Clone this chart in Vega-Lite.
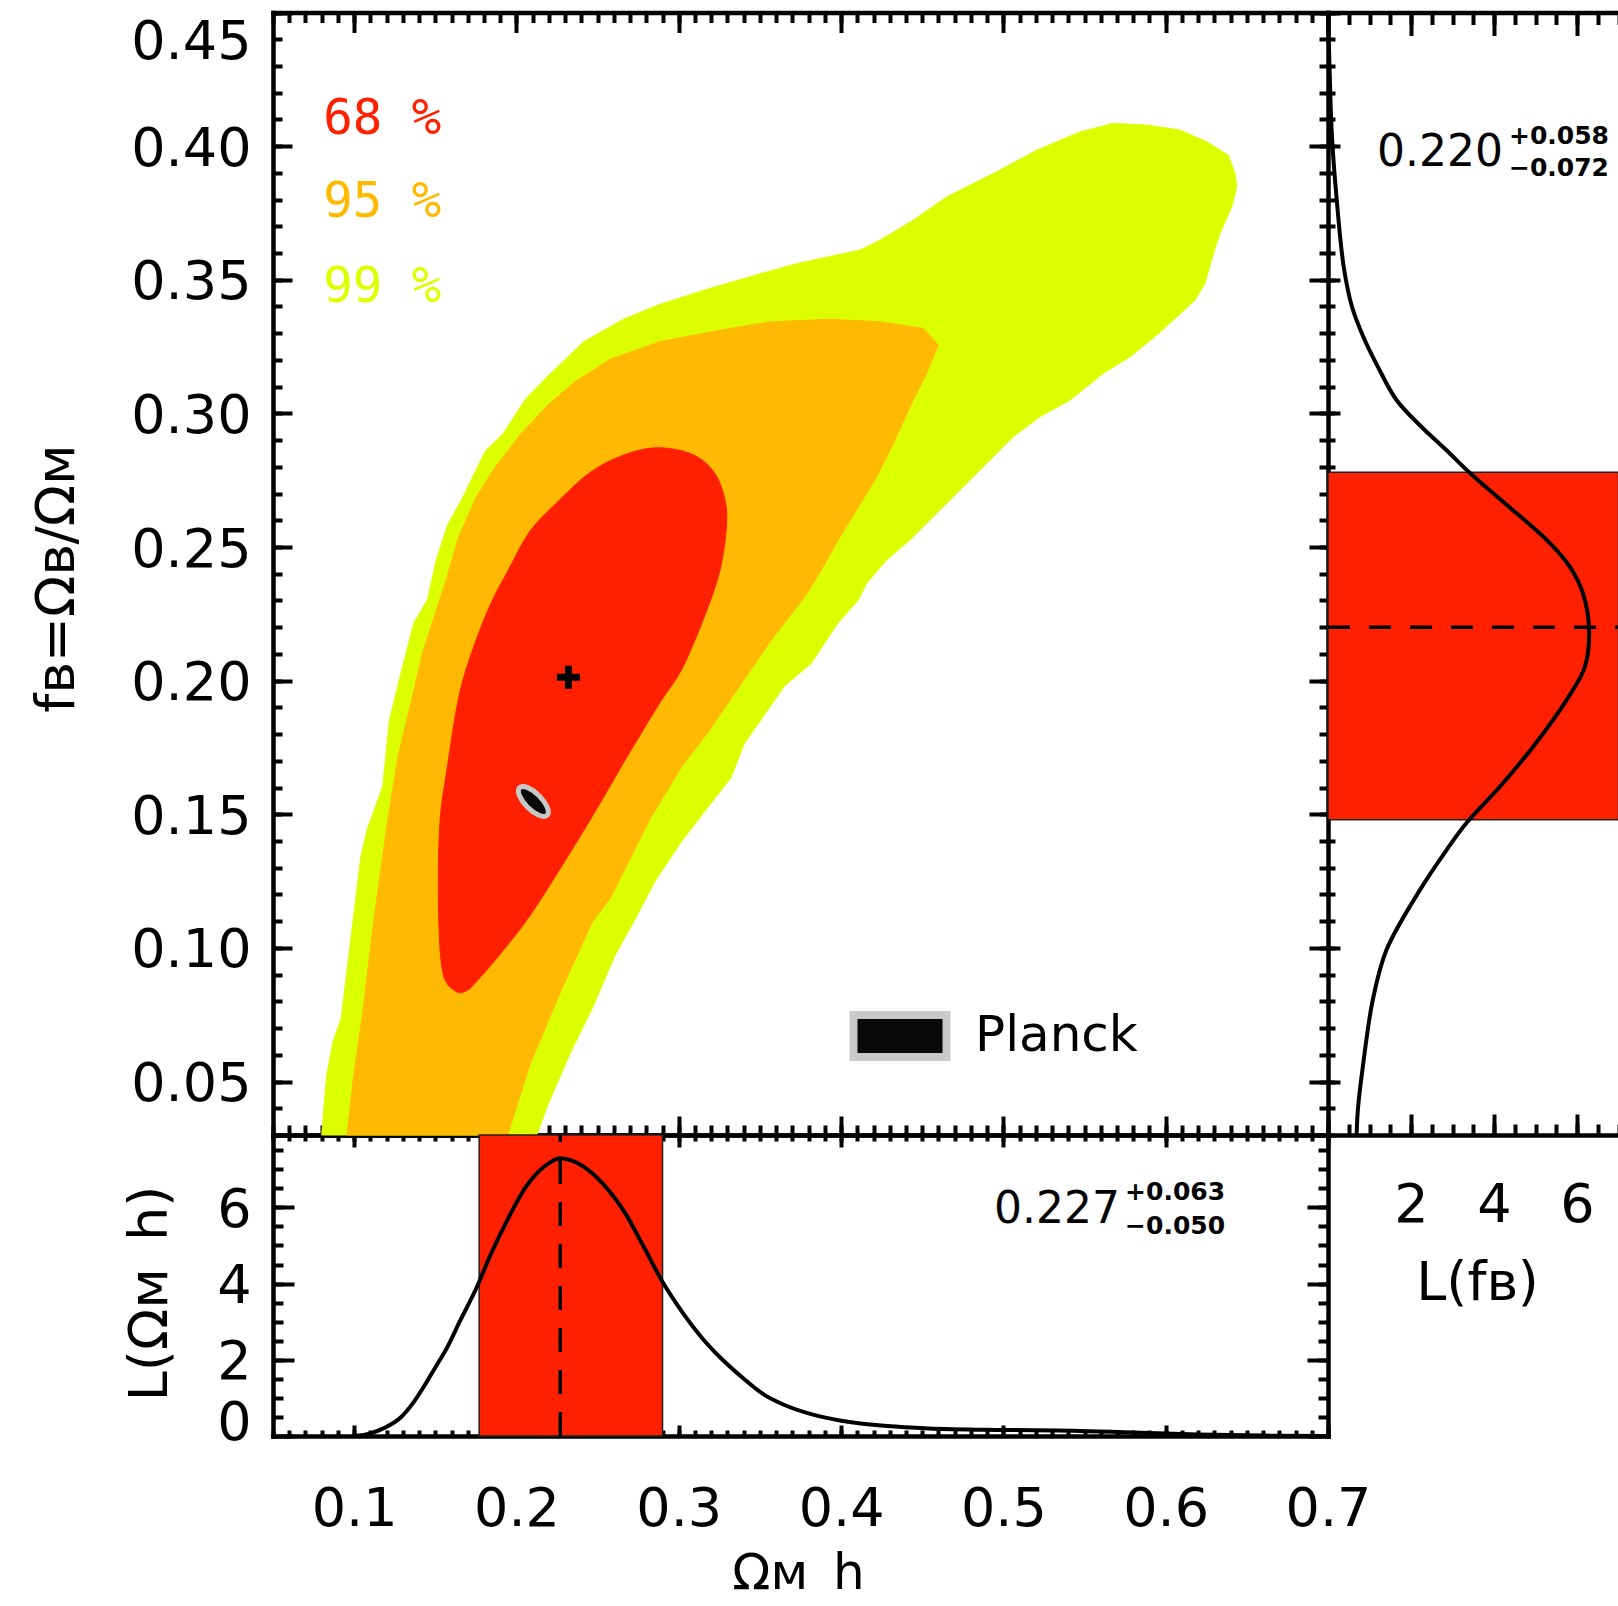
{
"$schema": "https://vega.github.io/schema/vega-lite/v6.json",
"width": 1618, "height": 1606,
"autosize": {"type": "none"},
"padding": 0,
"background": "white",
"config": {
  "view": {"stroke": null},
  "axis": {"labelFont": "DejaVu Sans", "labelFontSize": 54, "labelColor": "black", "titleFont": "DejaVu Sans", "titleFontSize": 54, "titleFontWeight": "normal", "titleColor": "black", "domainColor": "black", "domainWidth": 4.5, "domainCap": "square", "tickColor": "black", "tickWidth": 4, "grid": false, "zindex": 1, "labelFlush": false, "labelOverlap": false}
},
"datasets": {
  "c99": [
    {"i":1,"omh":0.080,"fb":0.030},{"i":2,"omh":0.083,"fb":0.052},{"i":3,"omh":0.087,"fb":0.065},{"i":4,"omh":0.092,"fb":0.0735},{"i":5,"omh":0.098,"fb":0.1035},{"i":6,"omh":0.104,"fb":0.1336},{"i":7,"omh":0.108,"fb":0.1443},{"i":8,"omh":0.1176,"fb":0.1604},{"i":9,"omh":0.1217,"fb":0.1851},{"i":10,"omh":0.1286,"fb":0.2022},
    {"i":11,"omh":0.1368,"fb":0.2216},{"i":12,"omh":0.1451,"fb":0.2302},{"i":13,"omh":0.1506,"fb":0.2452},{"i":14,"omh":0.1575,"fb":0.2581},{"i":15,"omh":0.1671,"fb":0.2688},{"i":16,"omh":0.1808,"fb":0.2859},{"i":17,"omh":0.1918,"fb":0.2924},{"i":18,"omh":0.2056,"fb":0.3054},{"i":19,"omh":0.2193,"fb":0.3139},{"i":20,"omh":0.2414,"fb":0.3268},
    {"i":21,"omh":0.2661,"fb":0.3353},{"i":22,"omh":0.2881,"fb":0.3407},{"i":23,"omh":0.3156,"fb":0.3461},{"i":24,"omh":0.3459,"fb":0.3515},{"i":25,"omh":0.3706,"fb":0.3557},{"i":26,"omh":0.3829,"fb":0.3574},{"i":27,"omh":0.4117,"fb":0.3611},{"i":28,"omh":0.4240,"fb":0.3648},{"i":29,"omh":0.4445,"fb":0.3723},{"i":30,"omh":0.4651,"fb":0.3810},
    {"i":31,"omh":0.4959,"fb":0.3904},{"i":32,"omh":0.5206,"fb":0.3985},{"i":33,"omh":0.5472,"fb":0.4053},{"i":34,"omh":0.5677,"fb":0.4085},{"i":35,"omh":0.5883,"fb":0.4079},{"i":36,"omh":0.6088,"fb":0.4060},{"i":37,"omh":0.6253,"fb":0.4016},{"i":38,"omh":0.6386,"fb":0.3966},{"i":39,"omh":0.6427,"fb":0.3898},{"i":40,"omh":0.6438,"fb":0.3848},
    {"i":41,"omh":0.6407,"fb":0.3773},{"i":42,"omh":0.6335,"fb":0.3674},{"i":43,"omh":0.6294,"fb":0.3599},{"i":44,"omh":0.6242,"fb":0.3487},{"i":45,"omh":0.6181,"fb":0.3424},{"i":46,"omh":0.6047,"fb":0.3349},{"i":47,"omh":0.5945,"fb":0.3293},{"i":48,"omh":0.5780,"fb":0.3212},{"i":49,"omh":0.5616,"fb":0.3150},{"i":50,"omh":0.5411,"fb":0.3050},
    {"i":51,"omh":0.5226,"fb":0.2988},{"i":52,"omh":0.5061,"fb":0.2913},{"i":53,"omh":0.4897,"fb":0.2813},{"i":54,"omh":0.4713,"fb":0.2701},{"i":55,"omh":0.4568,"fb":0.2614},{"i":56,"omh":0.4425,"fb":0.2527},{"i":57,"omh":0.4281,"fb":0.2452},{"i":58,"omh":0.4158,"fb":0.2365},{"i":59,"omh":0.4106,"fb":0.2302},{"i":60,"omh":0.3981,"fb":0.2216},
    {"i":61,"omh":0.3816,"fb":0.2065},{"i":62,"omh":0.3651,"fb":0.1980},{"i":63,"omh":0.3404,"fb":0.1765},{"i":64,"omh":0.3321,"fb":0.1637},{"i":65,"omh":0.3128,"fb":0.1486},{"i":66,"omh":0.3019,"fb":0.1400},{"i":67,"omh":0.2854,"fb":0.1250},{"i":68,"omh":0.2743,"fb":0.1121},{"i":69,"omh":0.2606,"fb":0.0971},{"i":70,"omh":0.2469,"fb":0.0777},
    {"i":71,"omh":0.2331,"fb":0.0606},{"i":72,"omh":0.2193,"fb":0.0413},{"i":73,"omh":0.2125,"fb":0.030}
  ],
  "c95": [
    {"i":1,"omh":0.0956,"fb":0.030},{"i":2,"omh":0.0997,"fb":0.0520},{"i":3,"omh":0.1052,"fb":0.0756},{"i":4,"omh":0.1120,"fb":0.1099},{"i":5,"omh":0.1203,"fb":0.1464},{"i":6,"omh":0.1272,"fb":0.1723},{"i":7,"omh":0.1341,"fb":0.1894},{"i":8,"omh":0.1423,"fb":0.2108},{"i":9,"omh":0.1492,"fb":0.2237},{"i":10,"omh":0.1561,"fb":0.2366},
    {"i":11,"omh":0.1644,"fb":0.2538},{"i":12,"omh":0.1753,"fb":0.2688},{"i":13,"omh":0.1864,"fb":0.2795},{"i":14,"omh":0.2028,"fb":0.2924},{"i":15,"omh":0.2193,"fb":0.3031},{"i":16,"omh":0.2358,"fb":0.3117},{"i":17,"omh":0.2578,"fb":0.3203},{"i":18,"omh":0.2881,"fb":0.3268},{"i":19,"omh":0.3239,"fb":0.3310},{"i":20,"omh":0.3568,"fb":0.3343},
    {"i":21,"omh":0.3932,"fb":0.3352},{"i":22,"omh":0.4240,"fb":0.3343},{"i":23,"omh":0.4507,"fb":0.3318},{"i":24,"omh":0.4599,"fb":0.3256},{"i":25,"omh":0.4528,"fb":0.3150},{"i":26,"omh":0.4445,"fb":0.3050},{"i":27,"omh":0.4322,"fb":0.2888},{"i":28,"omh":0.4220,"fb":0.2763},{"i":29,"omh":0.4096,"fb":0.2639},{"i":30,"omh":0.3994,"fb":0.2539},
    {"i":31,"omh":0.3891,"fb":0.2427},{"i":32,"omh":0.3788,"fb":0.2323},{"i":33,"omh":0.3568,"fb":0.2151},{"i":34,"omh":0.3376,"fb":0.1980},{"i":35,"omh":0.3183,"fb":0.1809},{"i":36,"omh":0.3019,"fb":0.1679},{"i":37,"omh":0.2826,"fb":0.1486},{"i":38,"omh":0.2578,"fb":0.1186},{"i":39,"omh":0.2469,"fb":0.1099},{"i":40,"omh":0.2276,"fb":0.0842},
    {"i":41,"omh":0.2083,"fb":0.0563},{"i":42,"omh":0.1946,"fb":0.030}
  ],
  "c68": [
    {"i":1,"omh":0.1629,"fb":0.0837},{"i":2,"omh":0.1547,"fb":0.0906},{"i":3,"omh":0.1520,"fb":0.1142},{"i":4,"omh":0.1528,"fb":0.1464},{"i":5,"omh":0.1575,"fb":0.1679},{"i":6,"omh":0.1644,"fb":0.1936},{"i":7,"omh":0.1726,"fb":0.2108},{"i":8,"omh":0.1836,"fb":0.2280},{"i":9,"omh":0.1946,"fb":0.2409},{"i":10,"omh":0.2083,"fb":0.2559},
    {"i":11,"omh":0.2249,"fb":0.2666},{"i":12,"omh":0.2441,"fb":0.2773},{"i":13,"omh":0.2634,"fb":0.2838},{"i":14,"omh":0.2854,"fb":0.2871},{"i":15,"omh":0.3074,"fb":0.2849},{"i":16,"omh":0.3211,"fb":0.2785},{"i":17,"omh":0.3280,"fb":0.2688},{"i":18,"omh":0.3294,"fb":0.2581},{"i":19,"omh":0.3252,"fb":0.2409},{"i":20,"omh":0.3156,"fb":0.2237},
    {"i":21,"omh":0.3019,"fb":0.2044},{"i":22,"omh":0.2881,"fb":0.1915},{"i":23,"omh":0.2689,"fb":0.1723},{"i":24,"omh":0.2523,"fb":0.1550},{"i":25,"omh":0.2331,"fb":0.1357},{"i":26,"omh":0.2083,"fb":0.1121},{"i":27,"omh":0.1891,"fb":0.0971},{"i":28,"omh":0.1753,"fb":0.0874},{"i":29,"omh":0.1698,"fb":0.0842}
  ],
  "levels": [
    {"label":"68 %","omh":0.081,"fb":0.4102},
    {"label":"95 %","omh":0.081,"fb":0.3791},
    {"label":"99 %","omh":0.081,"fb":0.3473}
  ],
  "planck": [{"source":"Planck","omh":0.2104,"fb":0.1548}],
  "best": [{"omh":0.232,"fb":0.2013}],
  "omh_est": [{"best":0.227,"lo":0.177,"hi":0.290}],
  "omh_like": [
    {"omh":0.100,"L":0.0},{"omh":0.110,"L":0.07},{"omh":0.118,"L":0.2},{"omh":0.129,"L":0.5},{"omh":0.136,"L":0.85},{"omh":0.143,"L":1.3},{"omh":0.150,"L":1.8},{"omh":0.157,"L":2.3},{"omh":0.165,"L":3.0},{"omh":0.1754,"L":3.89},
    {"omh":0.184,"L":4.75},{"omh":0.195,"L":5.72},{"omh":0.206,"L":6.55},{"omh":0.2174,"L":7.08},{"omh":0.227,"L":7.29},{"omh":0.2395,"L":7.12},{"omh":0.2533,"L":6.62},{"omh":0.267,"L":5.85},{"omh":0.278,"L":5.0},{"omh":0.2906,"L":4.0},
    {"omh":0.303,"L":3.2},{"omh":0.3138,"L":2.6},{"omh":0.3265,"L":2.02},{"omh":0.339,"L":1.54},{"omh":0.352,"L":1.1},{"omh":0.3648,"L":0.82},{"omh":0.3827,"L":0.56},{"omh":0.40,"L":0.4},{"omh":0.4286,"L":0.26},{"omh":0.454,"L":0.2},
    {"omh":0.50,"L":0.16},{"omh":0.543,"L":0.14},{"omh":0.58,"L":0.09},{"omh":0.62,"L":0.04},{"omh":0.66,"L":0.01},{"omh":0.70,"L":0.0}
  ],
  "omh_text": [{"t":"0.227","omh":0.5719,"L":5.93}],
  "omh_err": [{"t":"+0.063","omh":0.575,"L":6.41},{"t":"−0.050","omh":0.575,"L":5.52}],
  "fb_est": [{"best":0.220,"lo":0.148,"hi":0.278}],
  "fb_like": [
    {"fb":0.449,"L":0.0},{"fb":0.428,"L":0.04},{"fb":0.405,"L":0.09},{"fb":0.380,"L":0.21},{"fb":0.3547,"L":0.38},{"fb":0.3398,"L":0.58},{"fb":0.3287,"L":0.85},{"fb":0.3175,"L":1.2},{"fb":0.3050,"L":1.65},{"fb":0.2950,"L":2.25},
    {"fb":0.2863,"L":2.85},{"fb":0.2777,"L":3.42},{"fb":0.2657,"L":4.31},{"fb":0.2527,"L":5.27},{"fb":0.2426,"L":5.83},{"fb":0.2328,"L":6.14},{"fb":0.2195,"L":6.29},{"fb":0.2052,"L":6.19},{"fb":0.1928,"L":5.75},{"fb":0.1752,"L":4.94},{"fb":0.1603,"L":4.14},
    {"fb":0.1468,"L":3.34},{"fb":0.1367,"L":2.86},{"fb":0.1218,"L":2.22},{"fb":0.0993,"L":1.41},{"fb":0.0806,"L":1.08},{"fb":0.0556,"L":0.84},{"fb":0.0395,"L":0.72},{"fb":0.030,"L":0.69}
  ],
  "fb_text": [{"t":"0.220","L":4.217,"fb":0.3974}],
  "fb_err": [{"t":"+0.058","L":4.36,"fb":0.4039},{"t":"−0.072","L":4.36,"fb":0.3919}]
},
"layer": [
  {
    "data": {"name": "c99"},
    "mark": {"type": "line", "interpolate": "linear-closed", "fill": "#dcff00", "color": "#dcff00", "strokeWidth": 1},
    "encoding": {
      "x": {"field": "omh", "type": "quantitative", "scale": {"domain": [0.05, 0.7], "range": [273, 1328], "nice": false, "zero": false},
        "axis": {"orient": "bottom", "offset": -471, "values": [0.1,0.2,0.3,0.4,0.5,0.6,0.7], "tickSize": -19, "labels": false, "domain": true, "title": null}},
      "y": {"field": "fb", "type": "quantitative", "scale": {"domain": [0.03, 0.45], "range": [1135, 12.5], "nice": false, "zero": false},
        "axis": {"orient": "left", "offset": -273, "values": [0.05,0.1,0.15,0.2,0.25,0.3,0.35,0.4,0.45], "format": ".2f", "tickSize": -19, "labelPadding": 41, "labelFlush": 1, "labelOffset": 3, "domain": true,
          "title": "fʙ=Ωʙ/Ωᴍ", "titleX": -216, "titleY": 578, "titleAngle": 270, "titleAlign": "center", "titleBaseline": "middle"}},
      "order": {"field": "i", "type": "quantitative"}
    }
  },
  {
    "data": {"name": "c95"},
    "mark": {"type": "line", "interpolate": "linear-closed", "fill": "#ffba00", "color": "#ffba00", "strokeWidth": 1},
    "encoding": {
      "x": {"field": "omh", "type": "quantitative", "scale": {"domain": [0.05, 0.7], "range": [273, 1328], "nice": false, "zero": false},
        "axis": {"orient": "bottom", "offset": -471, "values": [0.05,0.06,0.07,0.08,0.09,0.1,0.11,0.12,0.13,0.14,0.15,0.16,0.17,0.18,0.19,0.2,0.21,0.22,0.23,0.24,0.25,0.26,0.27,0.28,0.29,0.3,0.31,0.32,0.33,0.34,0.35,0.36,0.37,0.38,0.39,0.4,0.41,0.42,0.43,0.44,0.45,0.46,0.47,0.48,0.49,0.5,0.51,0.52,0.53,0.54,0.55,0.56,0.57,0.58,0.59,0.6,0.61,0.62,0.63,0.64,0.65,0.66,0.67,0.68,0.69,0.7], "tickSize": -10, "labels": false, "domain": false, "title": null}},
      "y": {"field": "fb", "type": "quantitative", "scale": {"domain": [0.03, 0.45], "range": [1135, 12.5], "nice": false, "zero": false},
        "axis": {"orient": "left", "offset": -273, "values": [0.03,0.04,0.05,0.06,0.07,0.08,0.09,0.1,0.11,0.12,0.13,0.14,0.15,0.16,0.17,0.18,0.19,0.2,0.21,0.22,0.23,0.24,0.25,0.26,0.27,0.28,0.29,0.3,0.31,0.32,0.33,0.34,0.35,0.36,0.37,0.38,0.39,0.4,0.41,0.42,0.43,0.44,0.45], "tickSize": -9, "labels": false, "domain": false, "title": null}},
      "order": {"field": "i", "type": "quantitative"}
    }
  },
  {
    "data": {"name": "c68"},
    "mark": {"type": "line", "interpolate": "cardinal-closed", "fill": "#ff2000", "color": "#ff2000", "strokeWidth": 1},
    "encoding": {
      "x": {"field": "omh", "type": "quantitative", "scale": {"domain": [0.05, 0.7], "range": [273, 1328], "nice": false, "zero": false},
        "axis": {"orient": "top", "offset": -12.5, "values": [0.1,0.2,0.3,0.4,0.5,0.6,0.7], "tickSize": -20, "labels": false, "domain": true, "title": null}},
      "y": {"field": "fb", "type": "quantitative", "scale": {"domain": [0.03, 0.45], "range": [1135, 12.5], "nice": false, "zero": false},
        "axis": {"orient": "right", "offset": -290, "values": [0.05,0.1,0.15,0.2,0.25,0.3,0.35,0.4,0.45], "tickSize": -19, "labels": false, "domain": true, "title": null}},
      "order": {"field": "i", "type": "quantitative"}
    }
  },
  {
    "data": {"name": "planck"},
    "mark": {"type": "point", "filled": true, "shape": "M-1,0A1,0.42,0,1,0,1,0A1,0.42,0,1,0,-1,0Z", "size": 1521, "angle": 45, "fill": "#0a0a0a", "stroke": "#c8c8c8", "strokeWidth": 5, "opacity": 1},
    "encoding": {
      "x": {"field": "omh", "type": "quantitative", "scale": {"domain": [0.05, 0.7], "range": [273, 1328], "nice": false, "zero": false},
        "axis": {"orient": "top", "offset": -12.5, "values": [0.05,0.06,0.07,0.08,0.09,0.1,0.11,0.12,0.13,0.14,0.15,0.16,0.17,0.18,0.19,0.2,0.21,0.22,0.23,0.24,0.25,0.26,0.27,0.28,0.29,0.3,0.31,0.32,0.33,0.34,0.35,0.36,0.37,0.38,0.39,0.4,0.41,0.42,0.43,0.44,0.45,0.46,0.47,0.48,0.49,0.5,0.51,0.52,0.53,0.54,0.55,0.56,0.57,0.58,0.59,0.6,0.61,0.62,0.63,0.64,0.65,0.66,0.67,0.68,0.69,0.7], "tickSize": -10, "labels": false, "domain": false, "title": null}},
      "y": {"field": "fb", "type": "quantitative", "scale": {"domain": [0.03, 0.45], "range": [1135, 12.5], "nice": false, "zero": false},
        "axis": {"orient": "right", "offset": -290, "values": [0.03,0.04,0.05,0.06,0.07,0.08,0.09,0.1,0.11,0.12,0.13,0.14,0.15,0.16,0.17,0.18,0.19,0.2,0.21,0.22,0.23,0.24,0.25,0.26,0.27,0.28,0.29,0.3,0.31,0.32,0.33,0.34,0.35,0.36,0.37,0.38,0.39,0.4,0.41,0.42,0.43,0.44,0.45], "tickSize": -9, "labels": false, "domain": false, "title": null}}
    }
  },
  {
    "data": {"name": "planck"},
    "mark": {"type": "point", "filled": true, "opacity": 0},
    "encoding": {
      "x": {"field": "omh", "type": "quantitative", "scale": {"domain": [0.05, 0.7], "range": [273, 1328], "nice": false, "zero": false}, "axis": null},
      "y": {"field": "fb", "type": "quantitative", "scale": {"domain": [0.03, 0.45], "range": [1135, 12.5], "nice": false, "zero": false}, "axis": null},
      "color": {"field": "source", "type": "nominal", "scale": {"domain": ["Planck"], "range": ["#0a0a0a"]},
        "legend": {"orient": "none", "legendX": 849.5, "legendY": 985.5, "title": null, "padding": 0, "offset": 0,
          "symbolType": "M-1,-0.45L1,-0.45L1,0.45L-1,0.45Z", "symbolSize": 8649, "symbolStrokeColor": "#c8c8c8", "symbolStrokeWidth": 8, "symbolFillColor": "#0a0a0a", "symbolOpacity": 1,
          "labelFont": "DejaVu Sans", "labelFontSize": 50, "labelColor": "black", "labelOffset": 24.5, "labelLimit": 600}}
    }
  },
  {
    "data": {"name": "best"},
    "mark": {"type": "point", "filled": true, "shape": "M-1,-0.3H-0.3V-1H0.3V-0.3H1V0.3H0.3V1H-0.3V0.3H-1Z", "size": 529, "fill": "black", "strokeWidth": 0, "opacity": 1},
    "encoding": {
      "x": {"field": "omh", "type": "quantitative", "scale": {"domain": [0.05, 0.7], "range": [273, 1328], "nice": false, "zero": false}, "axis": null},
      "y": {"field": "fb", "type": "quantitative", "scale": {"domain": [0.03, 0.45], "range": [1135, 12.5], "nice": false, "zero": false}, "axis": null}
    }
  },
  {
    "data": {"name": "levels"},
    "mark": {"type": "text", "align": "left", "baseline": "middle", "font": "DejaVu Sans Mono", "fontSize": 49},
    "encoding": {
      "x": {"field": "omh", "type": "quantitative", "scale": {"domain": [0.05, 0.7], "range": [273, 1328], "nice": false, "zero": false}, "axis": null},
      "y": {"field": "fb", "type": "quantitative", "scale": {"domain": [0.03, 0.45], "range": [1135, 12.5], "nice": false, "zero": false}, "axis": null},
      "text": {"field": "label"},
      "color": {"field": "label", "type": "nominal", "scale": {"domain": ["68 %", "95 %", "99 %"], "range": ["#ff2000", "#ffba00", "#dcff00"]}, "legend": null}
    }
  },
  {
    "data": {"name": "omh_est"},
    "mark": {"type": "rect", "color": "#ff2000", "stroke": "#222222", "strokeWidth": 1.5},
    "encoding": {
      "x": {"field": "lo", "type": "quantitative", "scale": {"domain": [0.05, 0.7], "range": [273, 1328], "nice": false, "zero": false},
        "axis": {"orient": "bottom", "offset": -170, "values": [0.1,0.2,0.3,0.4,0.5,0.6,0.7], "format": ".1f", "tickSize": -11, "labelPadding": 57, "domain": true,
          "title": "Ωᴍ\u2002h", "titleFontSize": 50, "titleX": 798, "titleY": 137, "titleAngle": 0, "titleAlign": "center", "titleBaseline": "middle"}},
      "x2": {"field": "hi"},
      "y": {"datum": 0, "type": "quantitative", "scale": {"domain": [0, 7.9], "range": [1436, 1135], "nice": false, "zero": false},
        "axis": {"orient": "left", "offset": -273, "values": [0,2,4,6], "format": "d", "tickSize": -21, "labelPadding": 43, "labelOffset": 3,
          "labelBaseline": {"condition": {"test": "datum.value == 0", "value": "alphabetic"}, "value": "middle"}, "domain": true,
          "title": "L(Ωᴍ\u2002h)", "titleX": -123, "titleY": 1293, "titleAngle": 270, "titleAlign": "center", "titleBaseline": "middle"}},
      "y2": {"datum": 7.9}
    }
  },
  {
    "data": {"name": "omh_est"},
    "mark": {"type": "rule", "color": "black", "strokeWidth": 3.5, "strokeDash": [24, 18]},
    "encoding": {
      "x": {"field": "best", "type": "quantitative", "scale": {"domain": [0.05, 0.7], "range": [273, 1328], "nice": false, "zero": false},
        "axis": {"orient": "bottom", "offset": -170, "values": [0.05,0.06,0.07,0.08,0.09,0.1,0.11,0.12,0.13,0.14,0.15,0.16,0.17,0.18,0.19,0.2,0.21,0.22,0.23,0.24,0.25,0.26,0.27,0.28,0.29,0.3,0.31,0.32,0.33,0.34,0.35,0.36,0.37,0.38,0.39,0.4,0.41,0.42,0.43,0.44,0.45,0.46,0.47,0.48,0.49,0.5,0.51,0.52,0.53,0.54,0.55,0.56,0.57,0.58,0.59,0.6,0.61,0.62,0.63,0.64,0.65,0.66,0.67,0.68,0.69,0.7], "tickSize": -6, "labels": false, "domain": false, "title": null}},
      "y": {"datum": 0, "type": "quantitative", "scale": {"domain": [0, 7.9], "range": [1436, 1135], "nice": false, "zero": false},
        "axis": {"orient": "left", "offset": -273, "values": [0.5,1,1.5,2,2.5,3,3.5,4,4.5,5,5.5,6,6.5,7,7.5], "tickSize": -10, "labels": false, "domain": false, "title": null}},
      "y2": {"datum": 7.9}
    }
  },
  {
    "data": {"name": "omh_like"},
    "mark": {"type": "line", "color": "black", "strokeWidth": 4, "interpolate": "monotone"},
    "encoding": {
      "x": {"field": "omh", "type": "quantitative", "scale": {"domain": [0.05, 0.7], "range": [273, 1328], "nice": false, "zero": false},
        "axis": {"orient": "top", "offset": -1135, "values": [0.1,0.2,0.3,0.4,0.5,0.6,0.7], "tickSize": -12, "labels": false, "domain": true, "title": null}},
      "y": {"field": "L", "type": "quantitative", "scale": {"domain": [0, 7.9], "range": [1436, 1135], "nice": false, "zero": false},
        "axis": {"orient": "right", "offset": -290, "values": [0,2,4,6], "tickSize": -21, "labels": false, "domain": true, "title": null}}
    }
  },
  {
    "data": {"name": "omh_text"},
    "mark": {"type": "text", "align": "right", "baseline": "middle", "font": "DejaVu Sans", "fontSize": 44, "color": "black"},
    "encoding": {
      "x": {"field": "omh", "type": "quantitative", "scale": {"domain": [0.05, 0.7], "range": [273, 1328], "nice": false, "zero": false},
        "axis": {"orient": "top", "offset": -1135, "values": [0.05,0.06,0.07,0.08,0.09,0.1,0.11,0.12,0.13,0.14,0.15,0.16,0.17,0.18,0.19,0.2,0.21,0.22,0.23,0.24,0.25,0.26,0.27,0.28,0.29,0.3,0.31,0.32,0.33,0.34,0.35,0.36,0.37,0.38,0.39,0.4,0.41,0.42,0.43,0.44,0.45,0.46,0.47,0.48,0.49,0.5,0.51,0.52,0.53,0.54,0.55,0.56,0.57,0.58,0.59,0.6,0.61,0.62,0.63,0.64,0.65,0.66,0.67,0.68,0.69,0.7], "tickSize": -6, "labels": false, "domain": false, "title": null}},
      "y": {"field": "L", "type": "quantitative", "scale": {"domain": [0, 7.9], "range": [1436, 1135], "nice": false, "zero": false},
        "axis": {"orient": "right", "offset": -290, "values": [0.5,1,1.5,2,2.5,3,3.5,4,4.5,5,5.5,6,6.5,7,7.5], "tickSize": -10, "labels": false, "domain": false, "title": null}},
      "text": {"field": "t"}
    }
  },
  {
    "data": {"name": "omh_err"},
    "mark": {"type": "text", "align": "left", "baseline": "middle", "font": "DejaVu Sans", "fontSize": 25, "fontWeight": "bold", "color": "black"},
    "encoding": {
      "x": {"field": "omh", "type": "quantitative", "scale": {"domain": [0.05, 0.7], "range": [273, 1328], "nice": false, "zero": false}, "axis": null},
      "y": {"field": "L", "type": "quantitative", "scale": {"domain": [0, 7.9], "range": [1436, 1135], "nice": false, "zero": false}, "axis": null},
      "text": {"field": "t"}
    }
  },
  {
    "data": {"name": "fb_est"},
    "mark": {"type": "rect", "color": "#ff2000", "stroke": "#222222", "strokeWidth": 1.5},
    "encoding": {
      "x": {"datum": 0, "type": "quantitative", "scale": {"domain": [0, 7], "range": [1328, 1618.5], "nice": false, "zero": false},
        "axis": {"orient": "bottom", "offset": -471, "values": [2,4,6], "format": "d", "tickSize": -21, "labelPadding": 64, "domain": true,
          "title": "L(fʙ)", "titleX": 1477, "titleY": 148, "titleAngle": 0, "titleAlign": "center", "titleBaseline": "middle"}},
      "x2": {"datum": 7},
      "y": {"field": "lo", "type": "quantitative", "scale": {"domain": [0.03, 0.45], "range": [1135, 12.5], "nice": false, "zero": false},
        "axis": {"orient": "left", "offset": -1328, "values": [0.05,0.1,0.15,0.2,0.25,0.3,0.35,0.4,0.45], "tickSize": -12, "labels": false, "domain": false, "title": null}},
      "y2": {"field": "hi"}
    }
  },
  {
    "data": {"name": "fb_est"},
    "mark": {"type": "rule", "color": "black", "strokeWidth": 3.5, "strokeDash": [22, 19]},
    "encoding": {
      "x": {"datum": 0, "type": "quantitative", "scale": {"domain": [0, 7], "range": [1328, 1618.5], "nice": false, "zero": false},
        "axis": {"orient": "bottom", "offset": -471, "values": [0.5,1,1.5,2,2.5,3,3.5,4,4.5,5,5.5,6,6.5,7], "tickSize": -11, "labels": false, "domain": false, "title": null}},
      "x2": {"datum": 7},
      "y": {"field": "best", "type": "quantitative", "scale": {"domain": [0.03, 0.45], "range": [1135, 12.5], "nice": false, "zero": false},
        "axis": {"orient": "left", "offset": -1328, "values": [0.03,0.04,0.05,0.06,0.07,0.08,0.09,0.1,0.11,0.12,0.13,0.14,0.15,0.16,0.17,0.18,0.19,0.2,0.21,0.22,0.23,0.24,0.25,0.26,0.27,0.28,0.29,0.3,0.31,0.32,0.33,0.34,0.35,0.36,0.37,0.38,0.39,0.4,0.41,0.42,0.43,0.44,0.45], "tickSize": -7, "labels": false, "domain": false, "title": null}}
    }
  },
  {
    "data": {"name": "fb_like"},
    "mark": {"type": "line", "color": "black", "strokeWidth": 4, "interpolate": "catmull-rom"},
    "encoding": {
      "x": {"field": "L", "type": "quantitative", "scale": {"domain": [0, 7], "range": [1328, 1618.5], "nice": false, "zero": false},
        "axis": {"orient": "top", "offset": -12.5, "values": [2,4,6], "tickSize": -23, "labels": false, "domain": true, "title": null}},
      "y": {"field": "fb", "type": "quantitative", "scale": {"domain": [0.03, 0.45], "range": [1135, 12.5], "nice": false, "zero": false}, "axis": null},
      "order": {"field": "fb", "type": "quantitative"}
    }
  },
  {
    "data": {"name": "fb_text"},
    "mark": {"type": "text", "align": "right", "baseline": "middle", "font": "DejaVu Sans", "fontSize": 44, "color": "black"},
    "encoding": {
      "x": {"field": "L", "type": "quantitative", "scale": {"domain": [0, 7], "range": [1328, 1618.5], "nice": false, "zero": false},
        "axis": {"orient": "top", "offset": -12.5, "values": [0.5,1,1.5,2,2.5,3,3.5,4,4.5,5,5.5,6,6.5,7], "tickSize": -12, "labels": false, "domain": false, "title": null}},
      "y": {"field": "fb", "type": "quantitative", "scale": {"domain": [0.03, 0.45], "range": [1135, 12.5], "nice": false, "zero": false}, "axis": null},
      "text": {"field": "t"}
    }
  },
  {
    "data": {"name": "fb_err"},
    "mark": {"type": "text", "align": "left", "baseline": "middle", "font": "DejaVu Sans", "fontSize": 25, "fontWeight": "bold", "color": "black"},
    "encoding": {
      "x": {"field": "L", "type": "quantitative", "scale": {"domain": [0, 7], "range": [1328, 1618.5], "nice": false, "zero": false}, "axis": null},
      "y": {"field": "fb", "type": "quantitative", "scale": {"domain": [0.03, 0.45], "range": [1135, 12.5], "nice": false, "zero": false}, "axis": null},
      "text": {"field": "t"}
    }
  }
],
"resolve": {"scale": {"x": "independent", "y": "independent", "color": "independent"}}
}
